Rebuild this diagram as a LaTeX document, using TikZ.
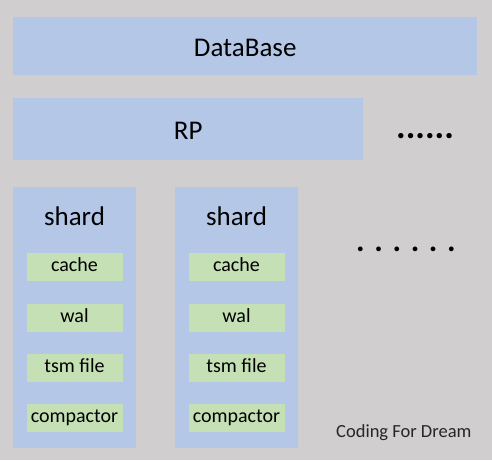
\documentclass[tikz,border=0pt]{standalone}
\usepackage{fontspec}
\setmainfont{Carlito}
\definecolor{bgGray}{HTML}{D0CECE}
\definecolor{layerBlue}{HTML}{B4C7E7}
\definecolor{partGreen}{HTML}{C5E0B4}

\begin{document}
\begin{tikzpicture}[x=1pt, y=-1pt,
  layer/.style={fill=layerBlue, inner sep=0pt, anchor=north west,
    font=\fontsize{27}{30}\selectfont},
  title/.style={inner sep=0pt, anchor=base, font=\fontsize{27}{30}\selectfont},
  part/.style={fill=partGreen, inner sep=0pt, anchor=north,
    minimum width=96pt, minimum height=27.5pt,
    text height=18.5pt, text depth=9pt, font=\fontsize{20}{24}\selectfont},
  more/.style={inner sep=0pt, anchor=base west, font=\fontsize{36}{40}\bfseries}]
\fill[bgGray] (0,0) rectangle (492,460);
\useasboundingbox (0,0) rectangle (492,460);

% layers
\node[layer, minimum width=464pt, text height=39pt, text depth=19pt] (db) at (13,17) {DataBase};
\node[layer, minimum width=350pt, text height=41pt, text depth=21pt] (rp) at (13,98) {RP};
\node[more] (rpmore) at (396,138) {......};

% shards
\foreach \sx/\sn in {13/A, 175/B} {
  \node[fill=layerBlue, inner sep=0pt, anchor=north west,
    minimum width=123pt, minimum height=261pt] (shard\sn) at (\sx,187) {};
  \node[title] (title\sn) at (\sx+61.5,225) {shard};
  \foreach \pn/\py/\pt in {cache/253/cache, wal/304/wal, tsm/354/tsm file, comp/404/compactor}
    \node[part] (\pn\sn) at (\sx+61.5,\py) {\pt};
}
\node[more, font=\fontsize{32}{40}\bfseries] (shardmore) at (356,251) {. . . . . .};

\node[inner sep=0pt, anchor=base west, text=black!85,
  font=\fontsize{18.5}{20}\selectfont] (sign) at (336,437) {Coding For Dream};
\end{tikzpicture}
\end{document}
